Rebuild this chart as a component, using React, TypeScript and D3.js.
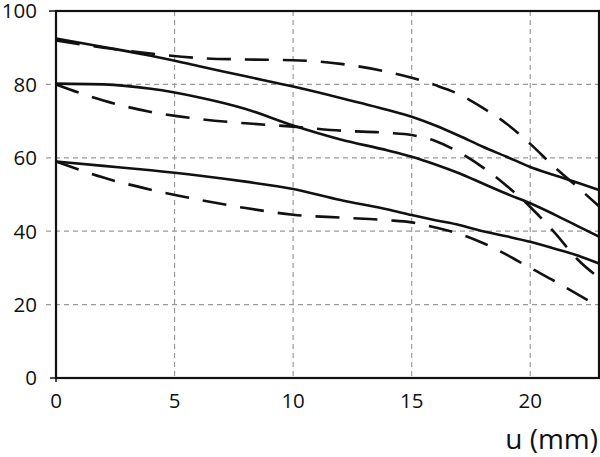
import React from "react";
import * as d3 from "d3";

const xs = [0, 2, 4, 6, 8, 10, 12, 14, 15, 16, 17, 18, 19, 20, 21, 22, 22.9];
const solidA = [92.5, 90.2, 87.8, 85, 82.2, 79.4, 76.3, 73, 71.2, 68.8, 66, 63, 60.3, 57.5, 55.3, 53.2, 51.2];
const dashedA = [92, 90, 88.4, 87.2, 86.8, 86.6, 85.6, 83.4, 81.8, 79.8, 77.3, 73.6, 69.3, 63.8, 57.6, 52, 46.8];
const solidB = [80.2, 80, 78.8, 76.5, 73.3, 68.8, 65, 62, 60.3, 58.2, 55.8, 53, 50.2, 47.6, 44.6, 41.4, 38.5];
const dashedB = [80, 75.6, 72.5, 70.6, 69.4, 68.5, 67.4, 66.8, 66.2, 64.6, 61.5, 57.4, 52.4, 46.6, 39.8, 32.3, 27.3];
const solidC = [59, 57.8, 56.6, 55.2, 53.5, 51.5, 48.5, 45.9, 44.4, 43, 41.7, 40, 38.6, 37.1, 35.3, 33.4, 31.2];
const dashedC = [59, 54.6, 51.3, 48.6, 46.3, 44.5, 43.7, 43, 42.4, 41, 39.3, 36.8, 33.6, 30, 26.5, 22.8, 19.5];

const xTicks = [0, 5, 10, 15, 20];
const yTicks = [0, 20, 40, 60, 80, 100];
const xLabel = "u (mm)";

const series = [
  { values: solidA, dashed: false },
  { values: dashedA, dashed: true },
  { values: solidB, dashed: false },
  { values: dashedB, dashed: true },
  { values: solidC, dashed: false },
  { values: dashedC, dashed: true },
];

export default function App() {
  const W = 600, H = 457;
  const left = 56, right = 599, top = 11, bottom = 378;
  const x = d3.scaleLinear().domain([0, 22.9]).range([left, right]);
  const y = d3.scaleLinear().domain([0, 100]).range([bottom, top]);
  const line = d3
    .line<number>()
    .x((_, i) => x(xs[i]))
    .y((d) => y(d))
    .curve(d3.curveMonotoneX);
  const font = "'Open Sans', 'DejaVu Sans', sans-serif";
  return (
    <svg width={W} height={H} style={{ position: "absolute", left: 0, top: 0 }}>
      <rect width={W} height={H} fill="#fff" />
      {yTicks.filter((t) => t > 0 && t < 100).map((t) => (
        <line key={"gy" + t} x1={left - 10} x2={right} y1={y(t)} y2={y(t)} stroke="#9a9a9a" strokeWidth={1.2} strokeDasharray="5,4" />
      ))}
      {xTicks.filter((t) => t > 0).map((t) => (
        <line key={"gx" + t} x1={x(t)} x2={x(t)} y1={top} y2={bottom} stroke="#9a9a9a" strokeWidth={1.2} strokeDasharray="5,4" />
      ))}
      <line x1={left - 7} x2={left} y1={y(100)} y2={y(100)} stroke="#111" strokeWidth={1.5} />
      <line x1={left - 6} x2={left} y1={y(0)} y2={y(0)} stroke="#111" strokeWidth={1.5} />
      <line x1={x(0)} x2={x(0)} y1={bottom} y2={bottom + 4} stroke="#111" strokeWidth={1.5} />
      {series.map((s, i) => (
        <path key={i} d={line(s.values) || ""} fill="none" stroke="#111" strokeWidth={2.6}
          strokeDasharray={s.dashed ? "24,14" : undefined} />
      ))}
      <rect x={left} y={top} width={right - left} height={bottom - top} fill="none" stroke="#111" strokeWidth={2.2} />
      {yTicks.map((t) => (
        <text key={"ty" + t} x={37} y={y(t)} dy="0.36em" textAnchor="end" fontFamily={font} fontSize={20.5} fill="#111">{t}</text>
      ))}
      {xTicks.map((t) => (
        <text key={"tx" + t} x={x(t)} y={bottom + 30} textAnchor="middle" fontFamily={font} fontSize={20.5} fill="#111">{t}</text>
      ))}
      <text x={598} y={449} textAnchor="end" fontFamily={font} fontSize={28} fill="#111">{xLabel}</text>
    </svg>
  );
}
